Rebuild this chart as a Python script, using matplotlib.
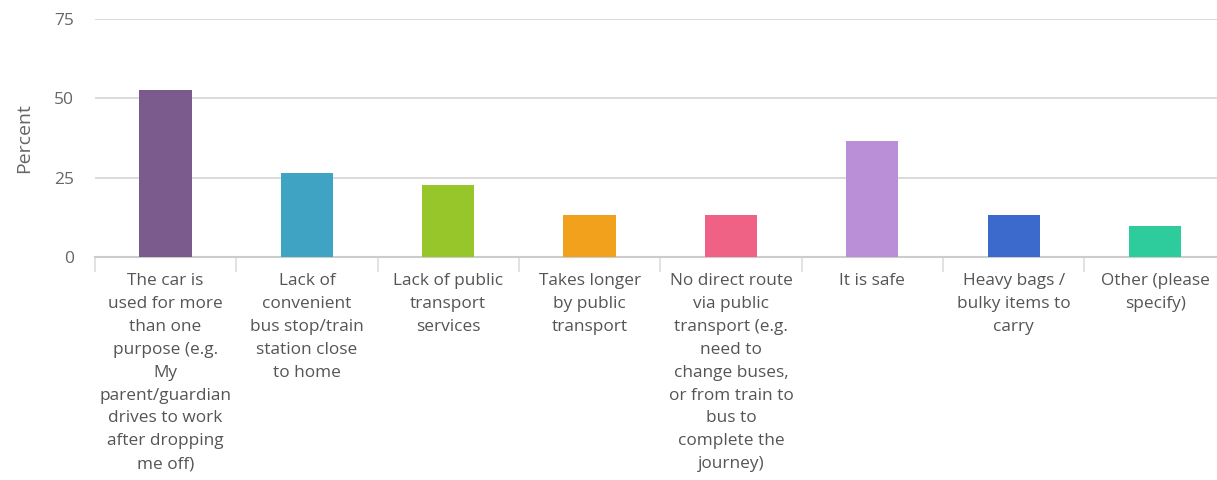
import numpy as np
import matplotlib
matplotlib.use("Agg")
import matplotlib.pyplot as plt

plt.rcParams['font.family'] = ['Open Sans', 'DejaVu Sans']

# ------------ Data ---------------
categories = [
    "The car is\nused for more\nthan one\npurpose (e.g.\nMy\nparent/guardian\ndrives to work\nafter dropping\nme off)",
    "Lack of\nconvenient\nbus stop/train\nstation close\nto home",
    "Lack of public\ntransport\nservices",
    "Takes longer\nby public\ntransport",
    "No direct route\nvia public\ntransport (e.g.\nneed to\nchange buses,\nor from train to\nbus to\ncomplete the\njourney)",
    "It is safe",
    "Heavy bags /\nbulky items to\ncarry",
    "Other (please\nspecify)",
]
percent = [52.6, 26.3, 22.6, 13.1, 13.1, 36.6, 13.1, 9.8]
colors = ["#7b5b8e", "#3fa3c4", "#97c62a", "#f2a11c",
          "#ef6185", "#bb8ed8", "#3c69cc", "#2ecb9c"]
y_ticks = [0, 25, 50, 75]

# ------------ Plot ---------------
fig = plt.figure(figsize=(12.17, 4.8), dpi=100)
ax = fig.add_axes([0.0779, 0.4652, 0.9293, 0.4946])

x = np.arange(len(categories))
ax.bar(x, percent, width=0.37, color=colors, zorder=3)

ax.set_xlim(-0.5, len(categories) - 0.5)
ax.set_ylim(0, 75)

# gridlines
ax.set_yticks(y_ticks)
ax.yaxis.grid(True, color="#d8d8d8", linewidth=1.3, zorder=0)
ax.set_axisbelow(True)
ax.tick_params(axis="y", length=0, pad=15, labelsize=12.5, labelcolor="#666666")

# category labels at bar centres, separators between categories
ax.set_xticks(x)
ax.set_xticklabels(categories, fontsize=12.4, color="#555555", linespacing=1.57,
                   va="top")
ax.tick_params(axis="x", which="major", length=0, pad=12)
ax.set_xticks(np.arange(len(categories) + 1) - 0.5, minor=True)
ax.tick_params(axis="x", which="minor", length=11, width=1.2, color="#dddddd",
               direction="out")

for side in ["top", "right", "left"]:
    ax.spines[side].set_visible(False)
ax.spines["bottom"].set_color("#cccccc")
ax.spines["bottom"].set_linewidth(1.5)

ax.set_ylabel("Percent", fontsize=14, color="#666666", labelpad=15)

fig.savefig("out.png", dpi=100)
